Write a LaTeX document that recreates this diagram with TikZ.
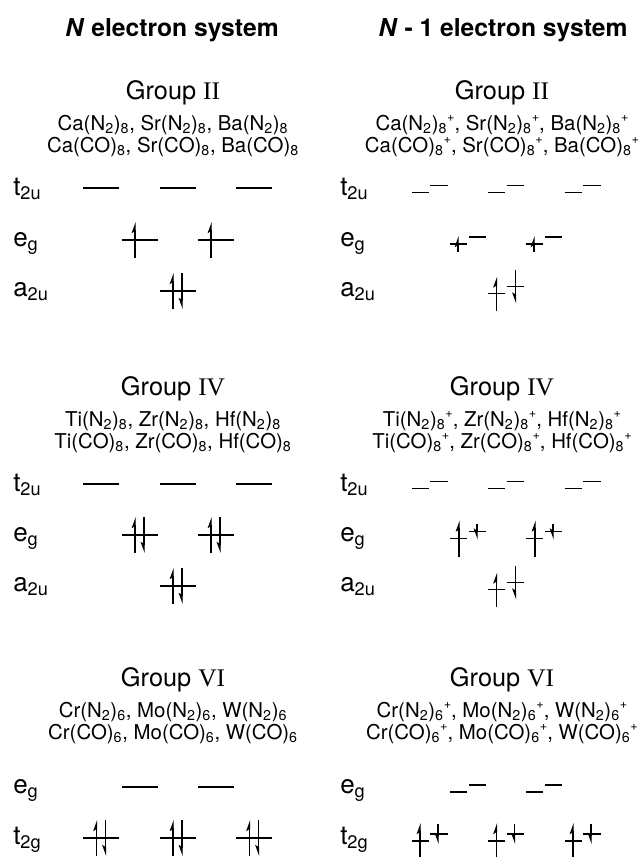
\documentclass[tikz,border=0pt]{standalone}
\usepackage{fontspec}
\setmainfont{TeX Gyre Heros}
\newfontfamily\romfont{Liberation Serif}
\usetikzlibrary{arrows.meta}
\tikzset{
  levelline/.style={line width=0.95pt},
  spinup/.style={line width=0.95pt,-{Stealth[harpoon,length=7pt,width=5pt,inset=1.5pt]}},
  spindn/.style={line width=0.95pt,-{Stealth[harpoon,swap,length=7pt,width=5pt,inset=1.5pt]}},
  headtext/.style={font=\bfseries\fontsize{18.5}{20}\selectfont,inner sep=0pt,anchor=base},
  grouptext/.style={font=\fontsize{19}{20}\selectfont,inner sep=0pt,anchor=base},
  cmpdtext/.style={font=\fontsize{15.3}{16}\selectfont,inner sep=0pt,anchor=base},
  lbltext/.style={font=\fontsize{19.5}{20}\selectfont,inner sep=0pt,anchor=base west}
}
\newcommand{\hlev}[3]{\draw[levelline] ({#1},{#3}) -- ({#2},{#3});}
\newcommand{\flev}[2]{\hlev{#1-18}{#1+18}{#2}}
\newcommand{\slev}[2]{\hlev{#1-18}{#1-0.8}{#2+3.5}\hlev{#1+0.8}{#1+18}{#2-3.5}}
\newcommand{\eup}[3]{\draw[spinup] ({#1},{#2+#3}) -- ({#1},{#2-#3});}
\newcommand{\edn}[3]{\draw[spindn] ({#1},{#2-#3}) -- ({#1},{#2+#3});}
\newcommand{\mysb}[1]{\textsubscript{#1}}
\newcommand{\mysp}[1]{\raisebox{0.42em}{\fontsize{9.5}{10}\selectfont #1}}
\begin{document}
\begin{tikzpicture}[x=0.75pt,y=-0.75pt]
\useasboundingbox (0,0) rectangle (643,857);
% headers
\node[headtext] (hl) at (172,36) {\textit{N} electron system};
\node[headtext] (hr) at (503,36) {\textit{N} - 1 electron system};
% ---------- Group II ----------
\node[grouptext] (g2l) at (173,99) {Group {\romfont II}};
\node[cmpdtext] (g2l1) at (173,130) {Ca(N\mysb{2})\mysb{8}, Sr(N\mysb{2})\mysb{8}, Ba(N\mysb{2})\mysb{8}};
\node[cmpdtext] (g2l2) at (173,152) {Ca(CO)\mysb{8}, Sr(CO)\mysb{8}, Ba(CO)\mysb{8}};
\node[grouptext] (g2r) at (502,99) {Group {\romfont II}};
\node[cmpdtext] (g2r1) at (502,130) {Ca(N\mysb{2})\mysb{8}\mysp{+}, Sr(N\mysb{2})\mysb{8}\mysp{+}, Ba(N\mysb{2})\mysb{8}\mysp{+}};
\node[cmpdtext] (g2r2) at (502,152) {Ca(CO)\mysb{8}\mysp{+}, Sr(CO)\mysb{8}\mysp{+}, Ba(CO)\mysb{8}\mysp{+}};
\node[lbltext] (l2t) at (13,195) {t\mysb{2u}};
\node[lbltext] (l2e) at (13,246) {e\mysb{g}};
\node[lbltext] (l2a) at (13,296) {a\mysb{2u}};
\node[lbltext] (r2t) at (340,195) {t\mysb{2u}};
\node[lbltext] (r2e) at (340,246) {e\mysb{g}};
\node[lbltext] (r2a) at (340,296) {a\mysb{2u}};
\flev{101}{188}\flev{177.5}{188}\flev{254}{188}
\flev{139.5}{240}\eup{135}{240}{18}
\flev{215.5}{240}\eup{211}{240}{18}
\flev{177.5}{291}\eup{173}{291}{18}\edn{182}{291}{18}
\slev{429.5}{189}\slev{506}{189}\slev{582.5}{189}
\slev{468}{240.5}\eup{458}{244}{8}
\slev{544}{240.5}\eup{534}{244}{8}
\slev{506}{290}\eup{496.5}{293.5}{17}\edn{515.5}{286.5}{17}
% ---------- Group IV ----------
\node[grouptext] (g4l) at (173,395) {Group {\romfont IV}};
\node[cmpdtext] (g4l1) at (173,426) {Ti(N\mysb{2})\mysb{8}, Zr(N\mysb{2})\mysb{8}, Hf(N\mysb{2})\mysb{8}};
\node[cmpdtext] (g4l2) at (173,448) {Ti(CO)\mysb{8}, Zr(CO)\mysb{8}, Hf(CO)\mysb{8}};
\node[grouptext] (g4r) at (502,395) {Group {\romfont IV}};
\node[cmpdtext] (g4r1) at (502,426) {Ti(N\mysb{2})\mysb{8}\mysp{+}, Zr(N\mysb{2})\mysb{8}\mysp{+}, Hf(N\mysb{2})\mysb{8}\mysp{+}};
\node[cmpdtext] (g4r2) at (502,448) {Ti(CO)\mysb{8}\mysp{+}, Zr(CO)\mysb{8}\mysp{+}, Hf(CO)\mysb{8}\mysp{+}};
\node[lbltext] (l4t) at (13,491) {t\mysb{2u}};
\node[lbltext] (l4e) at (13,541) {e\mysb{g}};
\node[lbltext] (l4a) at (13,591) {a\mysb{2u}};
\node[lbltext] (r4t) at (340,491) {t\mysb{2u}};
\node[lbltext] (r4e) at (340,541) {e\mysb{g}};
\node[lbltext] (r4a) at (340,591) {a\mysb{2u}};
\flev{101}{484}\flev{177.5}{484}\flev{254}{484}
\flev{139.5}{535}\eup{135}{535}{18}\edn{144}{535}{18}
\flev{215.5}{535}\eup{211}{535}{18}\edn{220}{535}{18}
\flev{177.5}{586}\eup{173}{586}{18}\edn{182}{586}{18}
\slev{429.5}{485}\slev{506}{485}\slev{582.5}{485}
\slev{468}{535}\eup{459}{538.5}{18}\edn{477}{531.5}{8}
\slev{544}{535}\eup{535}{538.5}{18}\edn{553}{531.5}{8}
\slev{506}{586}\eup{496.5}{589.5}{17}\edn{515.5}{582.5}{17}
% ---------- Group VI ----------
\node[grouptext] (g6l) at (173,686) {Group {\romfont VI}};
\node[cmpdtext] (g6l1) at (173,717) {Cr(N\mysb{2})\mysb{6}, Mo(N\mysb{2})\mysb{6}, W(N\mysb{2})\mysb{6}};
\node[cmpdtext] (g6l2) at (173,739) {Cr(CO)\mysb{6}, Mo(CO)\mysb{6}, W(CO)\mysb{6}};
\node[grouptext] (g6r) at (502,686) {Group {\romfont VI}};
\node[cmpdtext] (g6r1) at (502,717) {Cr(N\mysb{2})\mysb{6}\mysp{+}, Mo(N\mysb{2})\mysb{6}\mysp{+}, W(N\mysb{2})\mysb{6}\mysp{+}};
\node[cmpdtext] (g6r2) at (502,739) {Cr(CO)\mysb{6}\mysp{+}, Mo(CO)\mysb{6}\mysp{+}, W(CO)\mysb{6}\mysp{+}};
\node[lbltext] (l6e) at (13,793) {e\mysb{g}};
\node[lbltext] (l6t) at (13,844) {t\mysb{2g}};
\node[lbltext] (r6e) at (340,793) {e\mysb{g}};
\node[lbltext] (r6t) at (340,844) {t\mysb{2g}};
\flev{139.5}{787}\flev{215.5}{787}
\flev{101}{838}\eup{96.5}{838}{18}\edn{105.5}{838}{18}
\flev{177.5}{838}\eup{173}{838}{18}\edn{182}{838}{18}
\flev{254}{838}\eup{249.5}{838}{18}\edn{258.5}{838}{18}
\slev{468}{788.5}\slev{544}{788.5}
\slev{429.5}{837.5}\eup{420}{841}{18}\edn{438}{834}{10}
\slev{506}{837.5}\eup{496.5}{841}{18}\edn{514.5}{834}{10}
\slev{582.5}{837.5}\eup{573}{841}{18}\edn{591}{834}{10}
\end{tikzpicture}
\end{document}
